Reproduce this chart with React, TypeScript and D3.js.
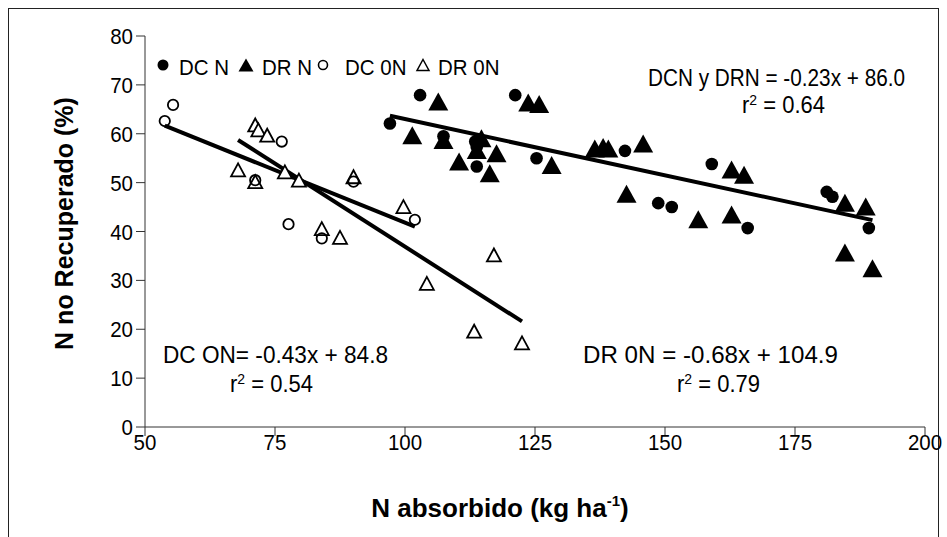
import React from "react";
import * as d3 from "d3";

// N absorbido (kg/ha) vs N no recuperado (%)
const dcN_x = [97.1, 102.9, 107.4, 113.5, 113.8, 113.8, 121.2, 125.3, 142.3, 148.7, 151.3, 159.0, 165.9, 181.1, 182.2, 189.2];
const dcN_y = [62.1, 67.9, 59.5, 58.4, 57.3, 53.3, 67.9, 55.0, 56.5, 45.8, 45.0, 53.8, 40.7, 48.1, 47.1, 40.7];

const drN_x = [101.4, 106.4, 107.4, 110.4, 113.8, 114.7, 116.3, 117.6, 123.7, 125.8, 128.2, 136.5, 138.1, 139.1, 142.6, 145.8, 156.4, 162.8, 162.8, 165.2, 184.6, 188.6, 184.6, 189.9];
const drN_y = [59.7, 66.6, 58.7, 54.3, 56.7, 59.1, 51.9, 56.0, 66.4, 66.1, 53.6, 57.0, 57.3, 57.0, 47.7, 58.0, 42.5, 52.7, 43.5, 51.6, 45.9, 45.1, 35.7, 32.5];

const dc0N_x = [53.8, 55.4, 71.2, 76.3, 77.6, 84.0, 90.1, 101.9];
const dc0N_y = [62.6, 65.9, 50.5, 58.4, 41.5, 38.6, 50.2, 42.4];

const dr0N_x = [67.9, 71.2, 71.8, 73.5, 71.2, 76.9, 79.6, 84.0, 87.5, 90.1, 99.7, 104.2, 113.3, 117.1, 122.5];
const dr0N_y = [52.6, 61.8, 60.8, 59.7, 50.2, 52.2, 50.5, 40.6, 38.8, 51.2, 45.1, 29.4, 19.6, 35.2, 17.2];

// Fitted lines: slope, intercept, x-range
const fitN = { slope: -0.23, intercept: 86.0, x0: 97.1, x1: 189.9 };
const fitDC0N = { slope: -0.43, intercept: 84.8, x0: 53.8, x1: 101.9 };
const fitDR0N = { slope: -0.68, intercept: 104.9, x0: 67.9, x1: 122.5 };

const xTicks = [50, 75, 100, 125, 150, 175, 200];
const yTicks = [0, 10, 20, 30, 40, 50, 60, 70, 80];

const legendLabels = ["DC N", "DR N", "DC 0N", "DR 0N"];

const W = 947;
const H = 537;
const FONT = "'Liberation Sans', Arial, sans-serif";

const x = d3.scaleLinear().domain([50, 200]).range([145, 925]);
const y = d3.scaleLinear().domain([0, 80]).range([427, 36]);

const tri = (cx: number, cy: number, w: number, h: number) =>
  `M${cx},${cy - h / 2}L${cx + w / 2},${cy + h / 2}L${cx - w / 2},${cy + h / 2}Z`;

const zip = (xs: number[], ys: number[]) => xs.map((v, i) => [v, ys[i]] as [number, number]);

// Text drawn slightly taller than wide
function T({ x: tx, y: ty, sy = 1.1, children, ...rest }: any) {
  return (
    <text transform={`translate(${tx},${ty}) scale(1,${sy})`} {...rest}>
      {children}
    </text>
  );
}

function FitLine({ fit }: { fit: { slope: number; intercept: number; x0: number; x1: number } }) {
  const line = d3.line<number>()
    .x((d) => x(d))
    .y((d) => y(fit.slope * d + fit.intercept));
  return <path d={line([fit.x0, fit.x1]) || ""} stroke="#000" strokeWidth={4} fill="none" />;
}

function R2({ x0, yb, value }: { x0: number; yb: number; value: string }) {
  return (
    <T x={x0} y={yb} sy={1.05} fontSize={22} fontFamily={FONT}>
      r<tspan dy={-8} fontSize={14}>2</tspan>
      <tspan dy={8}>{` = ${value}`}</tspan>
    </T>
  );
}

export default function App() {
  return (
    <svg width={W} height={H} style={{ position: "absolute", left: 0, top: 0, background: "#fff" }}>
      <rect x={8.5} y={8.5} width={930} height={540} fill="#fff" stroke="#222" strokeWidth={1} />

      {/* axes */}
      <g stroke="#333" strokeWidth={1}>
        <line x1={x(50)} x2={x(200)} y1={y(0)} y2={y(0)} />
        <line x1={x(50)} x2={x(50)} y1={y(0)} y2={y(80)} />
        {xTicks.map((t) => (
          <line key={`xt${t}`} x1={x(t)} x2={x(t)} y1={y(0)} y2={y(0) + 9} />
        ))}
        {yTicks.map((t) => (
          <line key={`yt${t}`} x1={x(50) - 9} x2={x(50)} y1={y(t)} y2={y(t)} />
        ))}
      </g>
      <g fontFamily={FONT} fontSize={20.5} fill="#000">
        {xTicks.map((t) => (
          <T key={`xl${t}`} x={x(t)} y={y(0) + 23} sy={1.12} textAnchor="middle">{t}</T>
        ))}
        {yTicks.map((t) => (
          <T key={`yl${t}`} x={x(50) - 12} y={y(t) + 8} sy={1.12} textAnchor="end">{t}</T>
        ))}
      </g>

      {/* axis titles */}
      <text x={500} y={517} textAnchor="middle" fontFamily={FONT} fontWeight="bold" fontSize={26}>
        N absorbido (kg ha<tspan dy={-11} fontSize={15}>-1</tspan><tspan dy={11}>)</tspan>
      </text>
      <text
        transform={`translate(73,${(y(0) + y(80)) / 2 - 8}) rotate(-90)`}
        textAnchor="middle"
        fontFamily={FONT}
        fontWeight="bold"
        fontSize={25}
      >
        N no Recuperado (%)
      </text>

      {/* regression lines */}
      <FitLine fit={fitN} />
      <FitLine fit={fitDC0N} />
      <FitLine fit={fitDR0N} />

      {/* points */}
      {zip(dr0N_x, dr0N_y).map(([a, b], i) => (
        <path key={`t0${i}`} d={tri(x(a), y(b), 14, 13)} fill="#fff" stroke="#000" strokeWidth={1.8} />
      ))}
      {zip(dc0N_x, dc0N_y).map(([a, b], i) => (
        <circle key={`c0${i}`} cx={x(a)} cy={y(b)} r={5.2} fill="none" stroke="#000" strokeWidth={1.8} />
      ))}
      {zip(drN_x, drN_y).map(([a, b], i) => (
        <path key={`tn${i}`} d={tri(x(a), y(b), 20, 18)} fill="#000" />
      ))}
      {zip(dcN_x, dcN_y).map(([a, b], i) => (
        <circle key={`cn${i}`} cx={x(a)} cy={y(b)} r={6.3} fill="#000" />
      ))}

      {/* legend */}
      <g fontFamily={FONT} fontSize={20.5}>
        <circle cx={163} cy={65} r={5.5} fill="#000" />
        <T x={179} y={75} sy={1.12}>{legendLabels[0]}</T>
        <path d={tri(246, 65, 15, 13)} fill="#000" />
        <T x={262} y={75} sy={1.12}>{legendLabels[1]}</T>
        <circle cx={323} cy={65} r={4.5} fill="none" stroke="#000" strokeWidth={1.6} />
        <T x={345} y={75} sy={1.12}>{legendLabels[2]}</T>
        <path d={tri(423, 65, 12, 11)} fill="#fff" stroke="#000" strokeWidth={1.5} />
        <T x={438} y={75} sy={1.12}>{legendLabels[3]}</T>
      </g>

      {/* equations */}
      <g fontFamily={FONT} fontSize={22}>
        <T x={648} y={86} sy={1.05} textLength={257} lengthAdjust="spacingAndGlyphs">DCN y DRN = -0.23x + 86.0</T>
        <R2 x0={742} yb={113} value="0.64" />
        <T x={163} y={363} sy={1.05} textLength={225} lengthAdjust="spacingAndGlyphs">DC ON= -0.43x + 84.8</T>
        <R2 x0={230} yb={392} value="0.54" />
        <T x={583} y={363} sy={1.05} textLength={255} lengthAdjust="spacingAndGlyphs">DR 0N = -0.68x + 104.9</T>
        <R2 x0={677} yb={392} value="0.79" />
      </g>
    </svg>
  );
}
